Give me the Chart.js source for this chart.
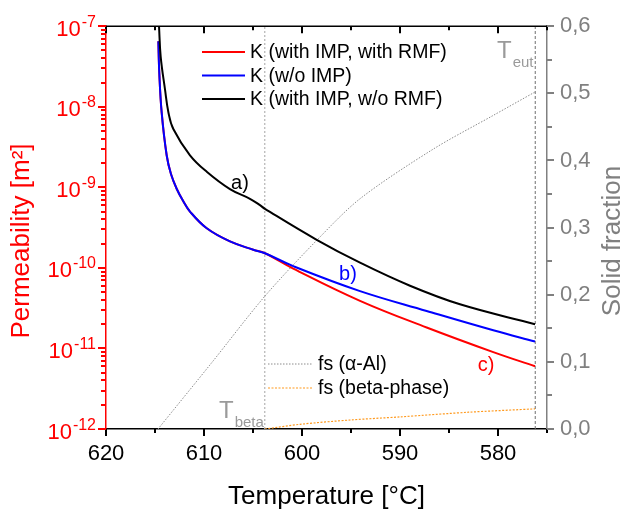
<!DOCTYPE html>
<html>
<head>
<meta charset="utf-8">
<title>Permeability and solid fraction</title>
<script src="https://cdn.jsdelivr.net/npm/chart.js@4.4.0/dist/chart.umd.min.js"></script>
<style>
  body { margin: 0; background: #fff; }
  canvas { display: block; }
</style>
</head>
<body>
<canvas id="chart" width="626" height="511"></canvas>
<script>
const FONT = '"Liberation Sans", Arial, sans-serif';

// temperature in °C, permeability in m²
const redT = [614.66, 614.56, 614.32, 613.81, 613.37, 612.79, 612.14, 611.43, 609.72, 607.35, 604.97, 603.78, 600.89, 594.08, 587.28, 580.48, 576.22];
const redK = [6.5e-8, 2.6e-8, 8.5e-9, 2.5e-9, 1.46e-9, 9.6e-10, 6.8e-10, 5.0e-10, 3.1e-10, 2.13e-10, 1.68e-10, 1.52e-10, 9.8e-11, 3.9e-11, 1.82e-11, 9.0e-12, 6.0e-12];

const blueT = [614.66, 614.56, 614.32, 613.81, 613.37, 612.79, 612.14, 611.43, 609.72, 607.35, 604.97, 603.78, 600.89, 594.08, 587.28, 580.48, 576.22];
const blueK = [6.5e-8, 2.6e-8, 8.5e-9, 2.5e-9, 1.46e-9, 9.6e-10, 6.8e-10, 5.0e-10, 3.1e-10, 2.13e-10, 1.68e-10, 1.52e-10, 1.05e-10, 5.15e-11, 2.92e-11, 1.68e-11, 1.22e-11];

const blackT = [614.59, 614.42, 613.98, 613.63, 613.13, 611.43, 609.69, 607.35, 605.31, 604.29, 603.78, 598.5, 594.08, 588.98, 583.88, 576.22];
const blackK = [1.0e-7, 4.2e-8, 1.64e-8, 8.5e-9, 5.3e-9, 2.5e-9, 1.55e-9, 9.5e-10, 7.2e-10, 6.0e-10, 5.4e-10, 2.23e-10, 1.16e-10, 6.0e-11, 3.53e-11, 2.0e-11];

// solid fractions
const alphaT = [614.69, 609.2, 603.78, 598.5, 594.08, 586.6, 580.5, 576.22];
const alphaFs = [0, 0.099, 0.198, 0.281, 0.343, 0.417, 0.467, 0.502];

const betaT = [603.78, 600.2, 595, 590, 583, 576.22];
const betaFs = [0, 0.007, 0.0135, 0.018, 0.025, 0.030];

const tBeta = 603.8;
const tEut = 576.2;

const tempTicks = [620, 610, 600, 590, 580];
const tempMinor = [615, 605, 595, 585, 575];
const permTicks = [1e-12, 1e-11, 1e-10, 1e-9, 1e-8, 1e-7];
const fracTicks = [0, 0.1, 0.2, 0.3, 0.4, 0.5, 0.6];
const fracMinor = [0.05, 0.15, 0.25, 0.35, 0.45, 0.55];

function pts(xs, ys) {
  return xs.map((x, i) => ({ x: x, y: ys[i] }));
}

function seg(ctx, x1, y1, x2, y2) {
  ctx.beginPath();
  ctx.moveTo(x1, y1);
  ctx.lineTo(x2, y2);
  ctx.stroke();
}

// text with a raised or lowered small part, e.g. T_beta
function textWithScript(ctx, base, script, x, y, baseSize, scriptSize, shift) {
  ctx.font = baseSize + 'px ' + FONT;
  ctx.fillText(base, x, y);
  const w = ctx.measureText(base).width;
  ctx.font = scriptSize + 'px ' + FONT;
  ctx.fillText(script, x + w + 1, y + shift);
}

const decorations = {
  id: 'decorations',
  afterDraw(chart) {
    const { ctx, chartArea: a } = chart;
    const { x, y, y2 } = chart.scales;
    const ds = chart.data.datasets;
    ctx.save();
    ctx.setLineDash([]);

    // top frame
    ctx.strokeStyle = '#000000';
    ctx.lineWidth = 1.5;
    seg(ctx, a.left, a.top, a.right, a.top);

    // temperature ticks: bottom outwards, top inwards
    ctx.lineWidth = 2;
    for (const v of tempTicks.concat(tempMinor)) {
      const px = Math.round(x.getPixelForValue(v));
      const len = tempTicks.includes(v) ? 7 : 4;
      seg(ctx, px, a.bottom, px, a.bottom + len);
      seg(ctx, px, a.top, px, a.top + len);
    }

    // permeability ticks (log)
    ctx.strokeStyle = '#ff0000';
    permTicks.forEach((v, i) => {
      const py = Math.round(y.getPixelForValue(v));
      seg(ctx, a.left - 8, py, a.left, py);
      if (i < permTicks.length - 1) {
        for (let k = 2; k <= 9; k++) {
          const my = Math.round(y.getPixelForValue(k * v));
          seg(ctx, a.left - 5, my, a.left, my);
        }
      }
    });

    // permeability labels 10^n
    ctx.fillStyle = '#ff0000';
    ctx.textBaseline = 'alphabetic';
    ctx.textAlign = 'left';
    permTicks.forEach(v => {
      const py = y.getPixelForValue(v);
      const exp = '-' + Math.round(-Math.log10(v));
      ctx.font = '16px ' + FONT;
      const ew = ctx.measureText(exp).width;
      ctx.font = '22px ' + FONT;
      const bw = ctx.measureText('10').width;
      const right = 96;
      ctx.fillText('10', right - ew - bw - 1, py + 9.5);
      ctx.font = '16px ' + FONT;
      ctx.fillText(exp, right - ew, py + 0.5);
    });

    // solid fraction ticks
    ctx.strokeStyle = '#808080';
    for (const v of fracTicks.concat(fracMinor)) {
      const py = Math.round(y2.getPixelForValue(v));
      const len = fracTicks.includes(v) ? 7 : 5;
      seg(ctx, a.right, py, a.right + len, py);
    }

    // axis titles
    ctx.textAlign = 'center';
    ctx.textBaseline = 'middle';
    ctx.font = '26px ' + FONT;
    ctx.fillStyle = '#000';
    ctx.fillText('Temperature [°C]', (a.left + a.right) / 2, 497);

    ctx.save();
    ctx.translate(22, 241);
    ctx.rotate(-Math.PI / 2);
    ctx.fillStyle = '#ff0000';
    ctx.fillText('Permeability [m²]', 0, 0);
    ctx.restore();

    ctx.save();
    ctx.translate(613, 241);
    ctx.rotate(-Math.PI / 2);
    ctx.fillStyle = '#808080';
    ctx.fillText('Solid fraction', 0, 0);
    ctx.restore();

    // legends
    ctx.textAlign = 'left';
    ctx.textBaseline = 'middle';
    ctx.font = '19.5px ' + FONT;
    const legendItems = [
      { d: ds[0], x1: 202, x2: 245, y: 52 },
      { d: ds[1], x1: 202, x2: 245, y: 75.5 },
      { d: ds[2], x1: 202, x2: 245, y: 99 },
      { d: ds[3], x1: 268, x2: 313, y: 364 },
      { d: ds[4], x1: 268, x2: 313, y: 388 }
    ];
    legendItems.forEach(it => {
      ctx.strokeStyle = it.d.borderColor;
      ctx.lineWidth = it.d.borderWidth;
      ctx.setLineDash(it.d.borderDash || []);
      seg(ctx, it.x1, it.y, it.x2, it.y);
      ctx.setLineDash([]);
      ctx.fillStyle = '#000';
      ctx.fillText(it.d.label, it.x2 + 5, it.y + 1);
    });

    // curve labels
    ctx.font = '20px ' + FONT;
    ctx.textAlign = 'center';
    ctx.fillStyle = '#000';
    ctx.fillText('a)', 240, 183);
    ctx.fillStyle = '#0000ff';
    ctx.fillText('b)', 348, 274);
    ctx.fillStyle = '#ff0000';
    ctx.fillText('c)', 486, 365);

    // temperature markers
    ctx.textAlign = 'left';
    ctx.textBaseline = 'alphabetic';
    ctx.fillStyle = '#9a9a9a';
    textWithScript(ctx, 'T', 'beta', 219, 418, 24, 15, 9);
    textWithScript(ctx, 'T', 'eut', 497, 58, 24, 15, 9);

    ctx.restore();
  }
};

const curve = (label, xs, ys, color, order) => ({
  label: label,
  data: pts(xs, ys),
  yAxisID: 'y',
  borderColor: color,
  borderWidth: 2,
  pointRadius: 0,
  tension: 0.4,
  order: order
});

new Chart(document.getElementById('chart'), {
  type: 'line',
  data: {
    datasets: [
      curve('K (with IMP, with RMF)', redT, redK, '#ff0000', 2),
      curve('K (w/o IMP)', blueT, blueK, '#0000ff', 1),
      curve('K (with IMP, w/o RMF)', blackT, blackK, '#000000', 0),
      {
        label: 'fs (\u03B1-Al)',
        data: pts(alphaT, alphaFs),
        yAxisID: 'y2',
        borderColor: '#8c8c8c',
        borderWidth: 1,
        borderDash: [1.5, 1.5],
        pointRadius: 0,
        tension: 0.3,
        order: 3
      },
      {
        label: 'fs (beta-phase)',
        data: pts(betaT, betaFs),
        yAxisID: 'y2',
        borderColor: '#ff9a1f',
        borderWidth: 1.2,
        borderDash: [2, 1.5],
        pointRadius: 0,
        tension: 0.3,
        order: 3
      },
      {
        label: 'T beta',
        data: [{ x: tBeta, y: 0 }, { x: tBeta, y: 0.6 }],
        yAxisID: 'y2',
        borderColor: '#b4b4b4',
        borderWidth: 1.2,
        borderDash: [2, 2],
        pointRadius: 0,
        order: 4
      },
      {
        label: 'T eut',
        data: [{ x: tEut, y: 0 }, { x: tEut, y: 0.6 }],
        yAxisID: 'y2',
        borderColor: '#6e6e6e',
        borderWidth: 1,
        borderDash: [3, 2],
        pointRadius: 0,
        order: 4
      }
    ]
  },
  options: {
    responsive: false,
    animation: false,
    devicePixelRatio: 1,
    layout: { padding: { top: 23, left: 0, right: 0, bottom: 0 } },
    plugins: { legend: { display: false }, tooltip: { enabled: false } },
    scales: {
      x: {
        type: 'linear',
        position: 'bottom',
        reverse: true,
        min: 575,
        max: 620,
        afterBuildTicks: s => { s.ticks = tempTicks.map(v => ({ value: v })); },
        afterFit: s => { s.height = 82; },
        grid: { display: false, drawTicks: false },
        border: { display: true, color: '#000', width: 1.5 },
        ticks: { color: '#000', font: { family: FONT, size: 22 }, padding: 12, maxRotation: 0 }
      },
      y: {
        type: 'logarithmic',
        position: 'left',
        min: 1e-12,
        max: 1e-7,
        afterBuildTicks: s => { s.ticks = permTicks.map(v => ({ value: v })); },
        afterFit: s => { s.width = 106; },
        grid: { display: false, drawTicks: false },
        border: { display: true, color: '#ff0000', width: 1.5 },
        ticks: { display: false }
      },
      y2: {
        type: 'linear',
        position: 'right',
        min: 0,
        max: 0.6,
        afterBuildTicks: s => { s.ticks = fracTicks.map(v => ({ value: v })); },
        afterFit: s => { s.width = 79; },
        grid: { display: false, drawTicks: false },
        border: { display: true, color: '#808080', width: 1.5 },
        ticks: {
          color: '#808080',
          font: { family: FONT, size: 22 },
          padding: 13,
          callback: v => v.toFixed(1).replace('.', ',')
        }
      }
    }
  },
  plugins: [decorations]
});
</script>
</body>
</html>
